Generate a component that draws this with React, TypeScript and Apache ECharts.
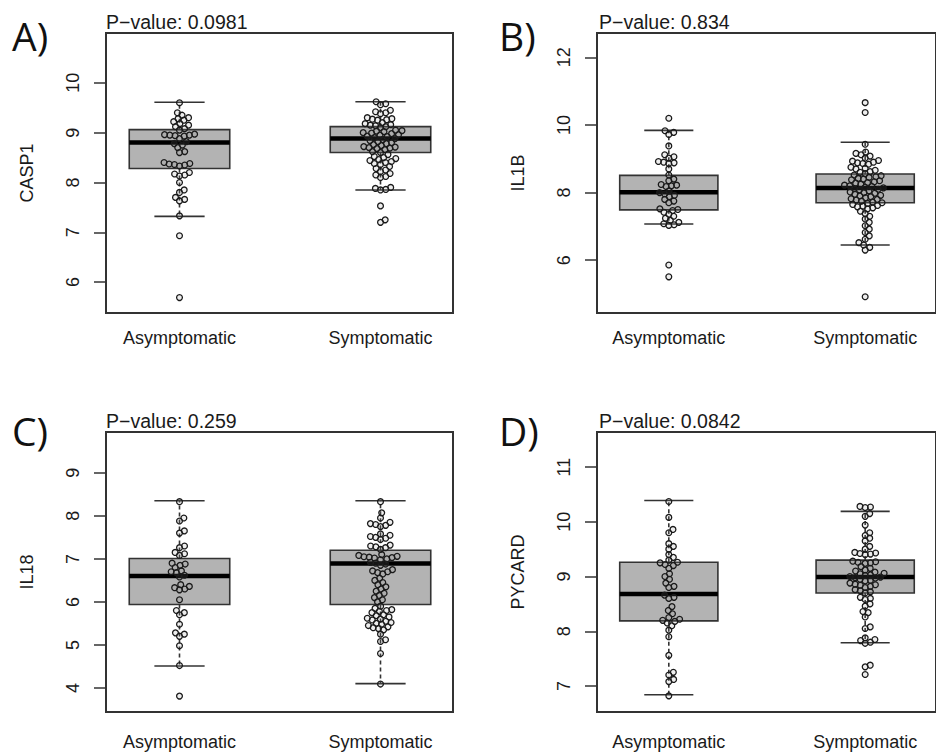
import React, { useEffect, useRef } from "react";
import * as echarts from "echarts";

const groups = ["Asymptomatic", "Symptomatic"];
const panelLetters = ["A)", "B)", "C)", "D)"];
const genes = ["CASP1", "IL1B", "IL18", "PYCARD"];
const pValues = ["0.0981", "0.834", "0.259", "0.0842"];
const yTicks = [
  [6, 7, 8, 9, 10],
  [6, 8, 10, 12],
  [4, 5, 6, 7, 8, 9],
  [7, 8, 9, 10, 11],
];
const yMins = [5.38, 4.44, 3.44, 6.525];
const yMaxs = [11.0, 12.72, 9.95, 11.64];

// box stats per group: [lower whisker, Q1, median, Q3, upper whisker]
const casp1Box = [
  [7.32, 8.28, 8.8, 9.06, 9.61],
  [7.85, 8.6, 8.88, 9.12, 9.62],
];
const il1bBox = [
  [7.07, 7.49, 8.01, 8.51, 9.84],
  [6.45, 7.7, 8.14, 8.55, 9.49],
];
const il18Box = [
  [4.51, 5.94, 6.6, 7.01, 8.35],
  [4.1, 5.94, 6.89, 7.2, 8.35],
];
const pycardBox = [
  [6.84, 8.19, 8.68, 9.26, 10.39],
  [7.79, 8.7, 8.99, 9.3, 10.19],
];

const casp1Asym = [9.6, 9.4, 9.35, 9.3, 9.28, 9.25, 9.22, 9.18, 9.15, 9.12, 9.08, 9.05, 8.97, 8.96, 8.95, 8.95, 8.94, 8.93, 8.88, 8.82, 8.78, 8.75, 8.7, 8.62, 8.6, 8.4, 8.38, 8.37, 8.36, 8.35, 8.33, 8.2, 8.17, 8.15, 8.13, 8.0, 7.85, 7.8, 7.7, 7.66, 7.63, 7.33, 6.93, 5.69];
const casp1Sym = [9.62, 9.58, 9.56, 9.45, 9.42, 9.4, 9.38, 9.3, 9.28, 9.27, 9.26, 9.25, 9.2, 9.18, 9.16, 9.15, 9.14, 9.12, 9.1, 9.05, 9.04, 9.03, 9.02, 9.0, 8.99, 8.98, 8.96, 8.95, 8.93, 8.92, 8.9, 8.88, 8.86, 8.84, 8.82, 8.8, 8.78, 8.76, 8.74, 8.72, 8.71, 8.7, 8.69, 8.68, 8.66, 8.62, 8.6, 8.56, 8.52, 8.5, 8.48, 8.46, 8.44, 8.42, 8.4, 8.38, 8.36, 8.32, 8.28, 8.25, 8.22, 8.18, 8.15, 8.12, 8.1, 7.9, 7.88, 7.86, 7.85, 7.53, 7.25, 7.2];

const il1bAsym = [10.2, 9.83, 9.78, 9.72, 9.38, 9.12, 9.06, 9.02, 8.92, 8.9, 8.88, 8.86, 8.7, 8.52, 8.4, 8.35, 8.24, 8.22, 8.2, 8.18, 8.05, 8.0, 7.96, 7.92, 7.88, 7.8, 7.75, 7.7, 7.52, 7.5, 7.47, 7.42, 7.36, 7.3, 7.24, 7.18, 7.12, 7.08, 7.05, 7.03, 5.86, 5.51];
const il1bSym = [10.66, 10.37, 9.43, 9.2, 9.16, 9.12, 9.08, 9.02, 8.95, 8.93, 8.9, 8.88, 8.86, 8.84, 8.75, 8.72, 8.7, 8.66, 8.62, 8.6, 8.56, 8.52, 8.5, 8.47, 8.45, 8.42, 8.4, 8.38, 8.35, 8.32, 8.3, 8.28, 8.25, 8.22, 8.2, 8.18, 8.16, 8.14, 8.12, 8.1, 8.08, 8.05, 8.02, 8.0, 7.98, 7.95, 7.92, 7.9, 7.88, 7.85, 7.82, 7.8, 7.78, 7.75, 7.72, 7.7, 7.68, 7.65, 7.62, 7.6, 7.58, 7.55, 7.52, 7.45, 7.38, 7.3, 7.22, 7.12, 7.02, 6.92, 6.82, 6.72, 6.62, 6.52, 6.45, 6.38, 6.3, 4.92];

const il18Asym = [8.33, 7.95, 7.88, 7.65, 7.6, 7.3, 7.26, 7.15, 7.12, 7.08, 6.9, 6.88, 6.85, 6.8, 6.72, 6.7, 6.68, 6.62, 6.58, 6.4, 6.36, 6.33, 6.3, 6.28, 6.05, 5.8, 5.75, 5.7, 5.48, 5.28, 5.25, 5.2, 4.98, 4.52, 3.81];
const il18Sym = [8.33, 8.07, 7.95, 7.85, 7.82, 7.8, 7.78, 7.75, 7.58, 7.55, 7.52, 7.5, 7.48, 7.45, 7.32, 7.3, 7.28, 7.26, 7.22, 7.1, 7.08, 7.06, 7.05, 7.04, 7.03, 7.02, 7.0, 6.98, 6.92, 6.9, 6.88, 6.85, 6.75, 6.72, 6.7, 6.68, 6.65, 6.55, 6.5, 6.45, 6.4, 6.35, 6.3, 6.25, 6.2, 6.15, 6.1, 6.05, 6.0, 5.9, 5.85, 5.82, 5.8, 5.78, 5.75, 5.7, 5.68, 5.65, 5.62, 5.6, 5.58, 5.55, 5.52, 5.5, 5.48, 5.45, 5.42, 5.4, 5.38, 5.35, 5.25, 5.12, 5.08, 4.8, 4.09];

const pycardAsym = [10.37, 10.08, 9.86, 9.8, 9.6, 9.55, 9.5, 9.4, 9.35, 9.3, 9.26, 9.25, 9.22, 9.2, 9.15, 9.05, 9.0, 8.95, 8.88, 8.82, 8.8, 8.66, 8.62, 8.6, 8.45, 8.38, 8.32, 8.25, 8.22, 8.2, 8.18, 8.15, 8.1, 8.02, 7.9, 7.56, 7.25, 7.2, 7.12, 7.08, 6.82];
const pycardSym = [10.28, 10.27, 10.26, 10.15, 10.1, 9.94, 9.8, 9.75, 9.7, 9.65, 9.55, 9.5, 9.44, 9.43, 9.42, 9.41, 9.4, 9.28, 9.27, 9.26, 9.25, 9.24, 9.18, 9.15, 9.12, 9.1, 9.08, 9.06, 9.05, 9.03, 9.02, 9.0, 8.99, 8.98, 8.97, 8.95, 8.93, 8.92, 8.88, 8.86, 8.85, 8.84, 8.82, 8.8, 8.76, 8.74, 8.72, 8.7, 8.62, 8.6, 8.58, 8.5, 8.46, 8.36, 8.34, 8.26, 8.08, 8.05, 7.88, 7.85, 7.83, 7.8, 7.78, 7.38, 7.35, 7.21];

const boxStats = [casp1Box, il1bBox, il18Box, pycardBox];
const points = [
  [casp1Asym, casp1Sym],
  [il1bAsym, il1bSym],
  [il18Asym, il18Sym],
  [pycardAsym, pycardSym],
];

// layout (pixels)
const GRID_LEFT = [106, 597, 106, 597];
const GRID_TOP = [33, 33, 432, 432];
const GRID_W = 347;
const GRID_H = 280;
const PX_PER_UNIT = 201;
const X_MIN = 1 - 73.5 / PX_PER_UNIT;
const X_MAX = X_MIN + GRID_W / PX_PER_UNIT;
const LABEL_MARGIN = [16, 16, 21, 21];
const FONT = "Liberation Sans, Arial, sans-serif";
const TEXT = "#1a1a1a";
const DOT_SPACING = 5.3;

function swarm(ys: number[], d: number): number[] {
  const order = ys.map((_, i) => i).sort((a, b) => ys[b] - ys[a]);
  const xs = new Array(ys.length).fill(0);
  const placed: number[] = [];
  for (const i of order) {
    const y = ys[i];
    const near = placed.filter((j) => Math.abs(ys[j] - y) < d);
    const cands = [0];
    for (const j of near) {
      const dy = ys[j] - y;
      const dx = Math.sqrt(d * d - dy * dy);
      cands.push(xs[j] + dx, xs[j] - dx);
    }
    cands.sort((a, b) => Math.abs(a) - Math.abs(b));
    let chosen = 0;
    for (const c of cands) {
      if (near.every((j) => (xs[j] - c) ** 2 + (ys[j] - y) ** 2 >= d * d - 1e-6)) {
        chosen = c;
        break;
      }
    }
    xs[i] = chosen;
    placed.push(i);
  }
  return xs;
}

export default function App() {
  const ref = useRef<HTMLDivElement>(null);
  useEffect(() => {
    if (!ref.current) return;
    const chart = echarts.init(ref.current, null, { renderer: "svg" });
    const grid: any[] = [];
    const xAxis: any[] = [];
    const yAxis: any[] = [];
    const series: any[] = [];
    const graphic: any[] = [];
    for (let p = 0; p < 4; p++) {
      grid.push({
        left: GRID_LEFT[p],
        top: GRID_TOP[p],
        width: GRID_W,
        height: GRID_H,
        show: true,
        borderColor: "#333",
        borderWidth: 2,
        backgroundColor: "transparent",
      });
      xAxis.push({
        gridIndex: p,
        type: "value",
        min: X_MIN,
        max: X_MAX,
        axisLine: { show: false },
        axisTick: { show: false },
        splitLine: { show: false },
        axisLabel: {
          customValues: [1, 2],
          formatter: (v: number) => groups[Math.round(v) - 1] || "",
          fontSize: 18,
          fontFamily: FONT,
          color: TEXT,
          margin: LABEL_MARGIN[p],
        },
      });
      yAxis.push({
        gridIndex: p,
        type: "value",
        min: yMins[p],
        max: yMaxs[p],
        name: genes[p],
        nameLocation: "middle",
        nameGap: 70,
        nameRotate: 90,
        nameTextStyle: { fontSize: 18, fontFamily: FONT, color: TEXT },
        axisLine: { show: false },
        splitLine: { show: false },
        axisTick: {
          show: true,
          inside: false,
          length: 12,
          customValues: yTicks[p],
          lineStyle: { color: "#333", width: 1.5 },
        },
        axisLabel: {
          customValues: yTicks[p],
          rotate: 90,
          margin: 24,
          fontSize: 18,
          fontFamily: FONT,
          color: TEXT,
          hideOverlap: false,
        },
      });
      const boxData = boxStats[p].map((s, g) => [g + 1, ...s]);
      series.push({
        type: "custom",
        name: genes[p] + " box",
        xAxisIndex: p,
        yAxisIndex: p,
        data: boxData,
        encode: { x: 0, y: [1, 2, 3, 4, 5] },
        z: 2,
        renderItem: (params: any, api: any) => {
          const x = api.value(0);
          const lw = api.value(1), q1 = api.value(2), md = api.value(3), q3 = api.value(4), uw = api.value(5);
          const tl = api.coord([x - 0.25, q3]);
          const br = api.coord([x + 0.25, q1]);
          const c = api.coord([x, md]);
          const yLw = api.coord([x, lw])[1];
          const yUw = api.coord([x, uw])[1];
          const sL = api.coord([x - 0.125, uw])[0];
          const sR = api.coord([x + 0.125, uw])[0];
          const lineStyle = { stroke: "#333", lineWidth: 1.6 };
          return {
            type: "group",
            children: [
              { type: "line", shape: { x1: c[0], y1: tl[1], x2: c[0], y2: yUw }, style: { ...lineStyle, lineDash: [4, 3] } },
              { type: "line", shape: { x1: c[0], y1: br[1], x2: c[0], y2: yLw }, style: { ...lineStyle, lineDash: [4, 3] } },
              { type: "line", shape: { x1: sL, y1: yUw, x2: sR, y2: yUw }, style: lineStyle },
              { type: "line", shape: { x1: sL, y1: yLw, x2: sR, y2: yLw }, style: lineStyle },
              {
                type: "rect",
                shape: { x: tl[0], y: tl[1], width: br[0] - tl[0], height: br[1] - tl[1] },
                style: { fill: "#b3b3b3", stroke: "#333", lineWidth: 1.6 },
              },
              { type: "line", shape: { x1: tl[0], y1: c[1], x2: br[0], y2: c[1] }, style: { stroke: "#000", lineWidth: 4.5 } },
            ],
          };
        },
      });
      series.push({
        type: "custom",
        name: genes[p] + " points",
        xAxisIndex: p,
        yAxisIndex: p,
        data: [[1, yMins[p]], [2, yMins[p]]],
        encode: { x: 0, y: 1 },
        z: 3,
        renderItem: (params: any, api: any) => {
          const g = params.dataIndex;
          const vals = points[p][g];
          const xc = g + 1;
          const cx = api.coord([xc, vals[0]])[0];
          const ys = vals.map((v) => api.coord([xc, v])[1]);
          const offs = swarm(ys, DOT_SPACING);
          return {
            type: "group",
            children: ys.map((y, i) => ({
              type: "circle",
              shape: { cx: cx + offs[i], cy: y, r: 2.9 },
              style: { fill: "rgba(140,140,140,0.15)", stroke: "#1a1a1a", lineWidth: 1.3 },
            })),
          };
        },
      });
      graphic.push({
        type: "text",
        left: GRID_LEFT[p] === 106 ? 12 : 499,
        top: GRID_TOP[p] === 33 ? 16 : 411,
        style: { text: panelLetters[p], font: "39px 'Open Sans', sans-serif", fill: "#111" },
      });
      graphic.push({
        type: "text",
        left: GRID_LEFT[p] + (p % 2 === 1 ? 2 : 0),
        top: GRID_TOP[p] - 21,
        style: { text: "P\u2212value: " + pValues[p], font: "19.5px 'Liberation Sans', Arial, sans-serif", fill: TEXT },
      });
    }
    chart.setOption({
      animation: false,
      backgroundColor: "#fff",
      grid,
      xAxis,
      yAxis,
      series,
      graphic,
    });
    return () => chart.dispose();
  }, []);
  return <div ref={ref} style={{ position: "absolute", left: 0, top: 0, width: 936, height: 755 }} />;
}
